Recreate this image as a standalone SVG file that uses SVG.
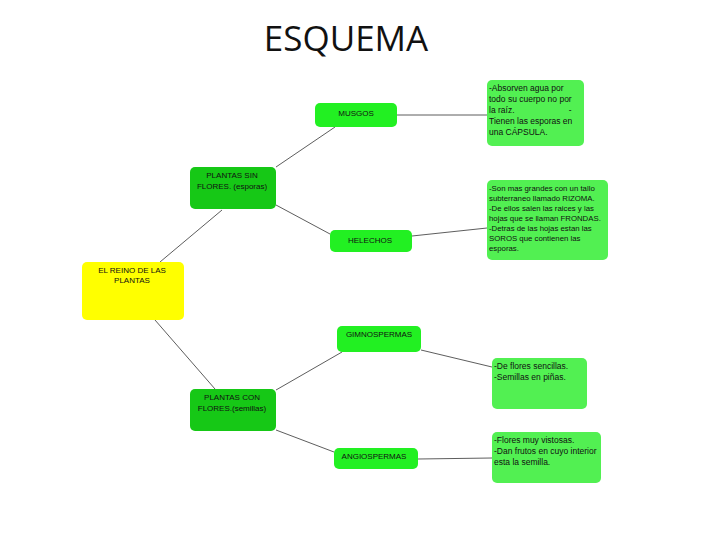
<svg xmlns="http://www.w3.org/2000/svg" width="728" height="546" viewBox="0 0 728 546">
<style>
.t{font-family:"Liberation Sans",Arial,sans-serif;font-size:8px;fill:#111}
.c{text-anchor:middle}
.b{font-size:8.5px}
.n{font-size:7.8px}
.root{fill:#ffff00}
.mid{fill:#16c816}
.cat{fill:#22f022}
.note{fill:#52f052}
#connectors line{stroke:#333;stroke-width:0.8}
</style>
<rect width="728" height="546" fill="#fff"/>
<text x="346" y="51" font-family="'Open Sans','Liberation Sans',sans-serif" font-size="35" text-anchor="middle" fill="#111">ESQUEMA</text>
<g id="connectors">
<line x1="160" y1="262" x2="222" y2="210"/>
<line x1="155" y1="320" x2="215" y2="389"/>
<line x1="276" y1="167" x2="335" y2="127"/>
<line x1="276" y1="205" x2="330" y2="234"/>
<line x1="276" y1="390" x2="342" y2="352"/>
<line x1="276" y1="430" x2="334" y2="452"/>
<line x1="397" y1="115" x2="487" y2="115"/>
<line x1="412" y1="236" x2="487" y2="228"/>
<line x1="421" y1="350" x2="492" y2="367"/>
<line x1="418" y1="459" x2="492" y2="458"/>
</g>
<g id="root">
<rect class="root" x="82" y="262" width="102" height="58" rx="5"/>
<text class="t c" x="132" y="273">EL REINO DE LAS</text>
<text class="t c" x="132" y="283">PLANTAS</text>
</g>
<g id="sin">
<rect class="mid" x="190" y="167" width="86" height="42" rx="5"/>
<text class="t c" x="232" y="178">PLANTAS SIN</text>
<text class="t c" x="232" y="189">FLORES. (esporas)</text>
</g>
<g id="con">
<rect class="mid" x="190" y="389" width="86" height="42" rx="5"/>
<text class="t c" x="232" y="400">PLANTAS CON</text>
<text class="t c" x="232" y="411">FLORES.(semillas)</text>
</g>
<g id="musgos">
<rect class="cat" x="315" y="103" width="82" height="24" rx="5"/>
<text class="t c" x="356" y="116">MUSGOS</text>
</g>
<g id="helechos">
<rect class="cat" x="330" y="230" width="82" height="22" rx="5"/>
<text class="t c" x="370" y="243">HELECHOS</text>
</g>
<g id="gimnospermas">
<rect class="cat" x="337" y="326" width="84" height="26" rx="5"/>
<text class="t c" x="379" y="337">GIMNOSPERMAS</text>
</g>
<g id="angiospermas">
<rect class="cat" x="334" y="448" width="84" height="21" rx="5"/>
<text class="t c" x="374" y="459">ANGIOSPERMAS</text>
</g>
<g id="note1">
<rect class="note" x="487" y="80" width="97" height="66" rx="5"/>
<text class="t b" x="489" y="91">-Absorven agua por</text>
<text class="t b" x="489" y="102">todo su cuerpo no por</text>
<text class="t b" x="489" y="113" xml:space="preserve">la raíz.                       -</text>
<text class="t b" x="489" y="124">Tienen las esporas en</text>
<text class="t b" x="489" y="135">una CÁPSULA.</text>
</g>
<g id="note2">
<rect class="note" x="487" y="180" width="121" height="80" rx="5"/>
<text class="t n" x="489" y="191">-Son mas grandes con un tallo</text>
<text class="t n" x="489" y="201">subterraneo llamado RIZOMA.</text>
<text class="t n" x="489" y="211">-De ellos salen las raices y las</text>
<text class="t n" x="489" y="221">hojas que se llaman FRONDAS.</text>
<text class="t n" x="489" y="231">-Detras de las hojas estan las</text>
<text class="t n" x="489" y="241">SOROS que contienen las</text>
<text class="t n" x="489" y="251">esporas.</text>
</g>
<g id="note3">
<rect class="note" x="492" y="358" width="95" height="51" rx="5"/>
<text class="t b" x="494" y="369">-De flores sencillas.</text>
<text class="t b" x="494" y="380">-Semillas en piñas.</text>
</g>
<g id="note4">
<rect class="note" x="492" y="432" width="109" height="51" rx="5"/>
<text class="t b" x="494" y="443">-Flores muy vistosas.</text>
<text class="t b" x="494" y="454">-Dan frutos en cuyo interior</text>
<text class="t b" x="494" y="465">esta la semilla.</text>
</g>
</svg>
